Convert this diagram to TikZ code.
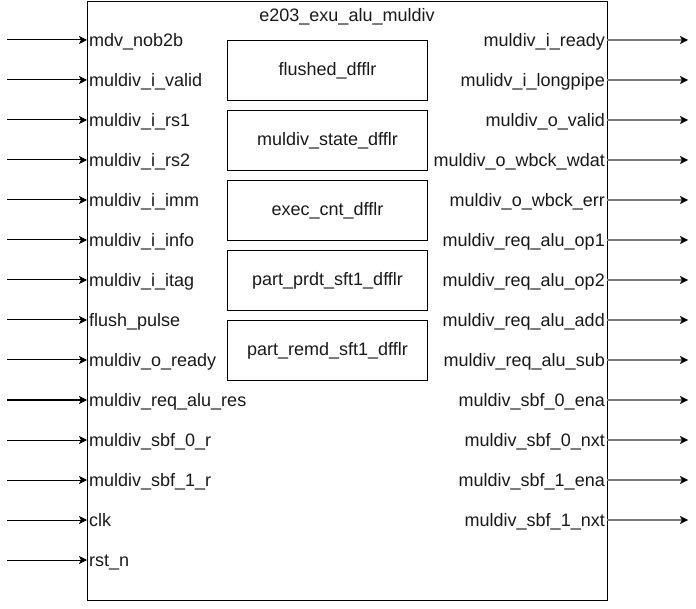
\documentclass[tikz,border=0pt]{standalone}
\usepackage{fontspec}
\setmainfont{Liberation Sans}
\usetikzlibrary{arrows.meta}
\definecolor{wiregray}{HTML}{7A7A7A}
\begin{document}
\begin{tikzpicture}[x=1pt,y=-1pt,
  every node/.style={font=\fontsize{18}{18}\selectfont, text=black!90},
  pinl/.style={anchor=west, inner xsep=2pt, inner ysep=0pt, text height=15pt, text depth=2pt},
  pinr/.style={anchor=east, inner xsep=2pt, inner ysep=0pt, text height=15pt, text depth=2pt},
  subbox/.style={draw=black, line width=1.1pt, minimum width=200pt, minimum height=60pt, inner sep=0pt, anchor=north west},
  inwire/.style={draw=black, line width=1pt, -{Stealth[length=8pt,width=8pt,inset=2pt]}},
  outwire/.style={draw=wiregray, line width=1.1pt, -{Stealth[length=8pt,width=8pt,inset=2pt,color=black]}}
]
\useasboundingbox (0,0) rectangle (696,609);
\node[draw=black, line width=1.1pt, minimum width=520pt, minimum height=599pt, inner sep=0pt, anchor=north west] (main) at (87,1) {};
\node (title) at (347,17) {e203\_exu\_alu\_muldiv};

\node[subbox] (b1) at (227,40) {flushed\_dfflr};
\node[subbox] (b2) at (227,110) {muldiv\_state\_dfflr};
\node[subbox] (b3) at (227,180) {exec\_cnt\_dfflr};
\node[subbox] (b4) at (227,250) {part\_prdt\_sft1\_dfflr};
\node[subbox] (b5) at (227,320) {part\_remd\_sft1\_dfflr};

\foreach \lab [count=\i] in {mdv\_nob2b, muldiv\_i\_valid, muldiv\_i\_rs1, muldiv\_i\_rs2, muldiv\_i\_imm, muldiv\_i\_info, muldiv\_i\_itag, flush\_pulse, muldiv\_o\_ready, muldiv\_req\_alu\_res, muldiv\_sbf\_0\_r, muldiv\_sbf\_1\_r, clk, rst\_n} {
  \coordinate (is\i) at (7,{40*\i});
  \node[pinl] (in\i) at (87,{40*\i}) {\lab};
  \draw[inwire] (is\i) -- (in\i.west);
}

\foreach \lab [count=\i] in {muldiv\_i\_ready, mulidv\_i\_longpipe, muldiv\_o\_valid, muldiv\_o\_wbck\_wdat, muldiv\_o\_wbck\_err, muldiv\_req\_alu\_op1, muldiv\_req\_alu\_op2, muldiv\_req\_alu\_add, muldiv\_req\_alu\_sub, muldiv\_sbf\_0\_ena, muldiv\_sbf\_0\_nxt, muldiv\_sbf\_1\_ena, muldiv\_sbf\_1\_nxt} {
  \coordinate (oe\i) at (688,{40*\i});
  \node[pinr] (out\i) at (607,{40*\i}) {\lab};
  \draw[outwire] (out\i.east) -- (oe\i);
}
\end{tikzpicture}
\end{document}
